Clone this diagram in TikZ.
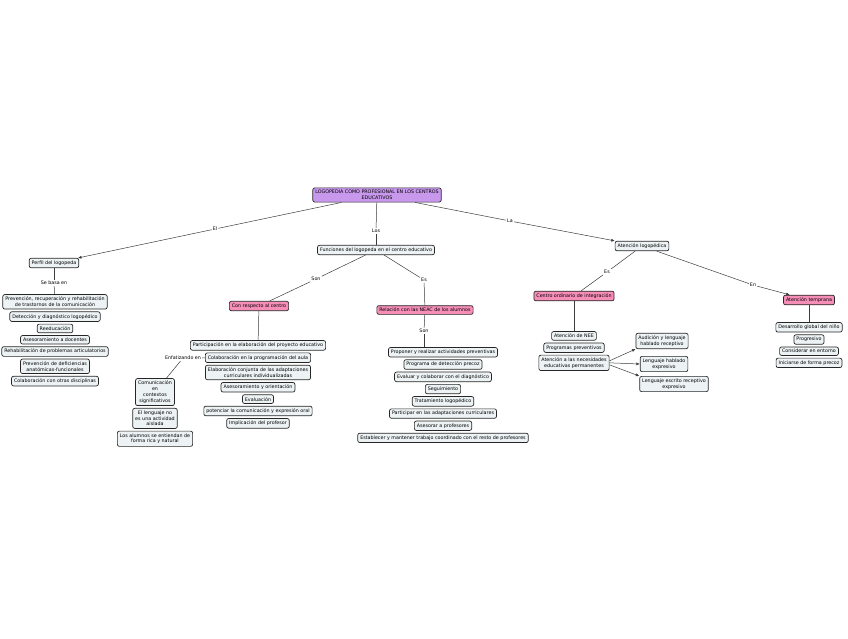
\documentclass[tikz,border=0pt]{standalone}
\usepackage{fontspec}
\setmainfont{DejaVu Sans}
\usetikzlibrary{matrix, arrows.meta, positioning}

\definecolor{conceptfill}{RGB}{237,243,244}
\definecolor{rootfill}{RGB}{200,152,236}
\definecolor{keyfill}{RGB}{246,142,184}
\definecolor{linkgray}{RGB}{60,60,60}

\tikzset{
  concept/.style={draw=black!85, line width=0.7pt, rounded corners=2pt, fill=conceptfill,
    align=center, inner xsep=2.5pt, inner ysep=2.4pt, font=\fontsize{4.8}{5.8}\selectfont},
  root/.style={concept, fill=rootfill},
  key/.style={concept, fill=keyfill},
  linkword/.style={inner sep=1pt, font=\fontsize{4.8}{5.8}\selectfont},
  link/.style={draw=linkgray, line width=0.5pt},
  linkto/.style={link, -{Latex[length=3.5pt,width=3pt]}},
  stack/.style={row sep=2pt, inner sep=0pt, anchor=north},
}

\begin{document}
\begin{tikzpicture}[x=1pt, y=-1pt]
\useasboundingbox (0,0) rectangle (848,638);

% top level
\node[root] (logo) at (377,195) {LOGOPEDIA COMO PROFESIONAL EN LOS CENTROS\\EDUCATIVOS};
\node[concept] (perfil) at (54,263) {Perfil del logopeda};
\node[concept] (funciones) at (376,250) {Funciones del logopeda en el centro educativo};
\node[concept] (atencion) at (642,246) {Atención logopédica};
\node[linkword] (el) at (215,229) {El};
\node[linkword] (los) at (376,231) {Los};
\node[linkword] (la) at (510,221) {La};
\draw[link] (logo) -- (el);
\draw[linkto] (el) -- (perfil);
\draw[link] (logo) -- (los);
\draw[link] (los) -- (funciones);
\draw[link] (logo) -- (la);
\draw[linkto] (la) -- (atencion);

% perfil
\node[linkword] (basa) at (54,283) {Se basa en};
\matrix (perfilList) [stack] at (55,294) {
  \node[concept] (prevencion) {Prevención, recuperación y rehabilitación\\de trastornos de la comunicación}; \\
  \node[concept] (deteccion) {Detección y diagnóstico logopédico}; \\
  \node[concept] (reeducacion) {Reeducación}; \\
  \node[concept] (asesoramiento) {Asesoramiento a docentes}; \\
  \node[concept] (rehabilitacion) {Rehabilitación de problemas articulatorios}; \\
  \node[concept] (deficiencias) {Prevención de deficiencias\\anatómicas-funcionales}; \\
  \node[concept] (disciplinas) {Colaboración con otras disciplinas}; \\
};
\draw[link] (perfil) -- (basa);
\draw[link] (basa) -- (prevencion);

% funciones
\node[key] (respecto) at (259,306) {Con respecto al centro};
\node[key] (relacion) at (425,310) {Relación con las NEAC de los alumnos};
\node[linkword] (son) at (316,279) {Son};
\node[linkword] (es) at (424,280) {Es};
\draw[link] (funciones) -- (son);
\draw[link] (son) -- (respecto);
\draw[link] (funciones) -- (es);
\draw[link] (es) -- (relacion);

\matrix (centroList) [stack] at (258,340) {
  \node[concept] (participacion) {Participación en la elaboración del proyecto educativo}; \\
  \node[concept] (colaboracion) {Colaboración en la programación del aula}; \\
  \node[concept] (adaptaciones) {Elaboración conjunta de las adaptaciones\\curriculares individualizadas}; \\
  \node[concept] (orientacion) {Asesoramiento y orientación}; \\
  \node[concept] (evaluacion) {Evaluación}; \\
  \node[concept] (potenciar) {potenciar la comunicación y expresión oral}; \\
  \node[concept] (implicacion) {Implicación del profesor}; \\
};
\draw[link] (respecto) -- (participacion);

\node[linkword] (enfatizando) at (183,358) {Enfatizando en};
\matrix (aulaList) [stack] at (155,378) {
  \node[concept] (comunicacion) {Comunicación\\en\\contextos\\significativos}; \\
  \node[concept] (lenguaje) {El lenguaje no\\es una actividad\\aislada}; \\
  \node[concept] (alumnos) {Los alumnos se entiendan de\\forma rica y natural}; \\
};
\draw[link] (colaboracion) -- (enfatizando);
\draw[link] (enfatizando) -- (comunicacion);

\node[linkword] (sonb) at (424,331) {Son};
\matrix (neacList) [stack] at (443,347) {
  \node[concept] (proponer) {Proponer y realizar actividades preventivas}; \\
  \node[concept] (programa) {Programa de detección precoz}; \\
  \node[concept] (evaluar) {Evaluar y colaborar con el diagnóstico}; \\
  \node[concept] (seguimiento) {Seguimiento}; \\
  \node[concept] (tratamiento) {Tratamiento logopédico}; \\
  \node[concept] (participar) {Participar en las adaptaciones curriculares}; \\
  \node[concept] (asesorar) {Asesorar a profesores}; \\
  \node[concept] (establecer) {Establecer y mantener trabajo coordinado con el resto de profesores}; \\
};
\draw[link] (relacion) -- (sonb);
\draw[link] (sonb) -- (sonb |- proponer.north);

% atencion logopedica
\node[key] (ordinario) at (574,296) {Centro ordinario de integración};
\node[key] (temprana) at (809,300) {Atención temprana};
\node[linkword] (esb) at (607,272) {Es};
\node[linkword] (en) at (753,285) {En};
\draw[link] (atencion) -- (esb);
\draw[link] (esb) -- (ordinario);
\draw[link] (atencion) -- (en);
\draw[linkto] (en) -- (temprana);

\matrix (ordinarioList) [stack] at (574,331) {
  \node[concept] (nee) {Atención de NEE}; \\
  \node[concept] (preventivos) {Programas preventivos}; \\
  \node[concept] (necesidades) {Atención a las necesidades\\educativas permanentes}; \\
};
\draw[link] (ordinario) -- (nee);

\node[concept] (audicion) at (662,341) {Audición y lenguaje\\hablado receptivo};
\node[concept] (hablado) at (664,364) {Lenguaje hablado\\expresivo};
\node[concept] (escrito) at (674,384) {Lenguaje escrito receptivo\\expresivo};
\draw[linkto] ([yshift=2pt]necesidades.east) -- (audicion.south west);
\draw[linkto] (necesidades.east) -- (hablado.west);
\draw[linkto] ([yshift=-2pt]necesidades.east) -- (escrito.north west);

\matrix (tempranaList) [stack] at (809,322) {
  \node[concept] (desarrollo) {Desarrollo global del niño}; \\
  \node[concept] (progresivo) {Progresivo}; \\
  \node[concept] (entorno) {Considerar en entorno}; \\
  \node[concept] (precoz) {Iniciarse de forma precoz}; \\
};
\draw[link] (temprana) -- (desarrollo);
\end{tikzpicture}
\end{document}
